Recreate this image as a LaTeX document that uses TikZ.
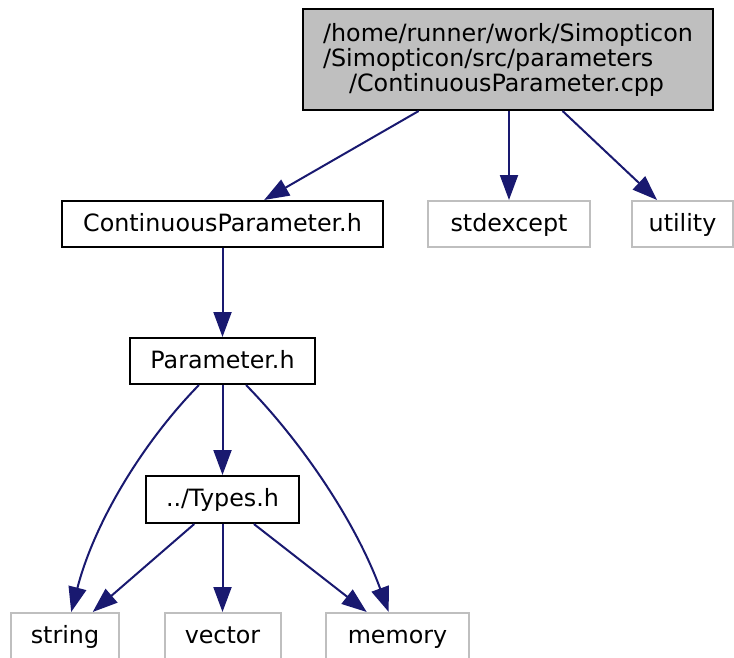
\documentclass[tikz,border=0pt]{standalone}
\usepackage{fontspec}
\setmainfont{DejaVu Sans}
\usetikzlibrary{arrows.meta}

\definecolor{edgeblue}{HTML}{191970}
\definecolor{extgray}{HTML}{BFBFBF}

\begin{document}
\begin{tikzpicture}[x=1pt,y=-1pt,
		file/.style={draw=black,line width=2pt,inner sep=0pt,minimum height=46pt,
			text height=19pt,text depth=5pt,font=\fontsize{23.8}{25}\selectfont},
		sysfile/.style={file,draw=extgray},
		incl/.style={draw=edgeblue,line width=2pt,-{Triangle[length=25pt,width=18pt]}}]
	\useasboundingbox (0,0) rectangle (734,657);

	% files
	\node[file,fill=extgray,minimum width=410pt,minimum height=101pt,text height=,text depth=,align=left] (cpp) at (508,59.5)
		{/home/runner/work/Simopticon\\/Simopticon/src/parameters\\\hspace{26pt}/ContinuousParameter.cpp};
	\node[file,minimum width=321pt] (cph) at (222.5,224) {ContinuousParameter.h};
	\node[sysfile,minimum width=162pt] (stdexcept) at (509,224) {stdexcept};
	\node[sysfile,minimum width=101pt] (utility) at (682.5,224) {utility};
	\node[file,minimum width=185pt] (param) at (222.5,361) {Parameter.h};
	\node[file,minimum width=153pt,minimum height=47pt] (types) at (222.5,499.5) {../Types.h};
	\node[sysfile,minimum width=108pt] (string) at (65,636) {string};
	\node[sysfile,minimum width=116pt] (vector) at (222.5,636) {vector};
	\node[sysfile,minimum width=143pt] (memory) at (397.5,636) {memory};

	% includes
	\draw[incl] (cpp) -- (cph);
	\draw[incl] (cpp.south -| stdexcept) -- (stdexcept);
	\draw[incl] (cpp) -- (utility);
	\draw[incl] (cph) -- (param);
	\draw[incl] (param) -- (types);
	\draw[incl] (param) .. controls (145,440) and (95,520) .. (string);
	\draw[incl] (param) .. controls (300,440) and (355,520) .. (memory);
	\draw[incl] (types) -- (string);
	\draw[incl] (types) -- (vector);
	\draw[incl] (types) -- (memory);
\end{tikzpicture}
\end{document}
